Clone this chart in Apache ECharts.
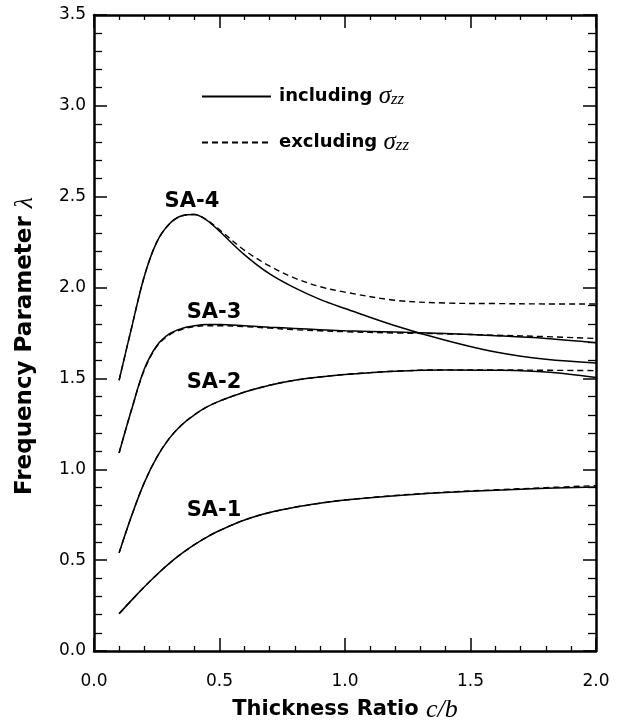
<!DOCTYPE html>
<html>
  <head>
    <meta charset="utf-8" />
    <title>Frequency Parameter</title>
    <script src="https://cdn.jsdelivr.net/npm/echarts@6/dist/echarts.min.js"></script>
    <style>
      body { margin: 0; background-color: #fff; }
      #box { width: 623px; height: 728px; }
    </style>
  </head>
  <body>
    <div id="box"></div>
    <script>
      // thickness ratio c/b
      var ratio = [0.1, 0.15, 0.2, 0.25, 0.3, 0.35, 0.4, 0.45, 0.5, 0.6, 0.7, 0.8, 0.9, 1.0, 1.2, 1.4, 1.6, 1.8, 2.0];

      // including sigma_zz (solid)
      var sa1Inc = [0.205, 0.28, 0.352, 0.42, 0.482, 0.537, 0.585, 0.627, 0.663, 0.721, 0.762, 0.791, 0.813, 0.831, 0.855, 0.872, 0.885, 0.895, 0.903];
      var sa2Inc = [0.54, 0.745, 0.925, 1.065, 1.17, 1.245, 1.30, 1.343, 1.375, 1.425, 1.463, 1.49, 1.508, 1.522, 1.54, 1.547, 1.545, 1.535, 1.505];
      var sa3Inc = [1.09, 1.33, 1.55, 1.68, 1.745, 1.775, 1.79, 1.797, 1.797, 1.79, 1.782, 1.775, 1.768, 1.762, 1.755, 1.747, 1.735, 1.72, 1.697];
      var sa4Inc = [1.49, 1.78, 2.06, 2.25, 2.35, 2.395, 2.402, 2.37, 2.31, 2.18, 2.075, 1.998, 1.935, 1.885, 1.79, 1.71, 1.645, 1.605, 1.585];

      // excluding sigma_zz (dashed)
      var sa1Exc = [0.205, 0.28, 0.352, 0.42, 0.482, 0.537, 0.585, 0.627, 0.663, 0.721, 0.762, 0.791, 0.813, 0.831, 0.856, 0.874, 0.887, 0.899, 0.91];
      var sa2Exc = [0.54, 0.745, 0.925, 1.065, 1.17, 1.245, 1.30, 1.343, 1.375, 1.425, 1.463, 1.49, 1.508, 1.522, 1.54, 1.547, 1.547, 1.545, 1.543];
      var sa3Exc = [1.09, 1.33, 1.545, 1.675, 1.74, 1.77, 1.785, 1.79, 1.79, 1.785, 1.777, 1.768, 1.762, 1.757, 1.75, 1.745, 1.738, 1.73, 1.72];
      var sa4Exc = [1.49, 1.78, 2.06, 2.25, 2.35, 2.395, 2.402, 2.372, 2.318, 2.205, 2.118, 2.052, 2.005, 1.975, 1.93, 1.915, 1.912, 1.91, 1.91];

      // mode labels
      var modeNames = ['SA-1', 'SA-2', 'SA-3', 'SA-4'];
      var modeLabelX = [0.478, 0.478, 0.478, 0.39];
      var modeLabelY = [0.775, 1.475, 1.865, 2.475];

      function pairs(ys) {
        return ratio.map(function (x, i) { return [x, ys[i]]; });
      }

      function curve(name, ys, dashed) {
        return {
          name: name,
          type: 'line',
          data: pairs(ys),
          symbol: 'none',
          smooth: 0.35,
          silent: true,
          itemStyle: { color: '#000' },
          lineStyle: {
            color: '#000',
            width: dashed ? 1.4 : 1.5,
            type: dashed ? [6, 4] : 'solid'
          },
          z: dashed ? 2 : 3
        };
      }

      var tickFont = { fontFamily: 'DejaVu Sans', fontSize: 17, color: '#000' };

      function xAxisOf(pos) {
        return {
          type: 'value',
          position: pos,
          min: 0,
          max: 2,
          interval: 0.5,
          axisLine: { show: true, onZero: false, lineStyle: { color: '#000', width: 2.5 } },
          axisTick: { show: true, inside: true, length: 13, lineStyle: { color: '#000', width: 1.5 } },
          minorTick: { show: true, splitNumber: 5, length: 5, lineStyle: { color: '#000', width: 1.3 } },
          splitLine: { show: false },
          axisLabel: pos === 'bottom' ? Object.assign({
            show: true, margin: 22,
            formatter: function (v) { return v.toFixed(1); }
          }, tickFont) : { show: false }
        };
      }

      function yAxisOf(pos) {
        return {
          type: 'value',
          position: pos,
          min: 0,
          max: 3.5,
          interval: 0.5,
          axisLine: { show: true, onZero: false, lineStyle: { color: '#000', width: 2.5 } },
          axisTick: { show: true, inside: true, length: 13, lineStyle: { color: '#000', width: 1.5 } },
          minorTick: { show: true, splitNumber: 5, length: 8, lineStyle: { color: '#000', width: 1.3 } },
          splitLine: { show: false },
          axisLabel: pos === 'left' ? Object.assign({
            show: true, margin: 8,
            formatter: function (v) { return v.toFixed(1); }
          }, tickFont) : { show: false }
        };
      }

      var xBottom = xAxisOf('bottom');
      xBottom.name = '{t|Thickness Ratio }{m|c/b}';
      xBottom.nameLocation = 'middle';
      xBottom.nameGap = 46;
      xBottom.nameTextStyle = {
        rich: {
          t: { fontFamily: 'DejaVu Sans', fontWeight: 'bold', fontSize: 21, color: '#000', lineHeight: 26 },
          m: { fontFamily: 'Liberation Serif', fontStyle: 'italic', fontSize: 26, color: '#000', lineHeight: 26 }
        }
      };

      var yLeft = yAxisOf('left');
      yLeft.name = '{t|Frequency Parameter }{m|λ}';
      yLeft.nameLocation = 'middle';
      yLeft.nameGap = 56;
      yLeft.nameRotate = 90;
      yLeft.nameTextStyle = {
        rich: {
          t: { fontFamily: 'DejaVu Sans', fontWeight: 'bold', fontSize: 23, color: '#000', lineHeight: 26 },
          m: { fontFamily: 'Liberation Serif', fontStyle: 'italic', fontSize: 26, color: '#000', lineHeight: 26, padding: [0, 26, 0, 0] }
        }
      };

      var labelData = modeNames.map(function (n, i) {
        return { name: n, value: [modeLabelX[i], modeLabelY[i]] };
      });

      var myChart = echarts.init(document.getElementById('box'));
      var option = {
        animation: false,
        backgroundColor: '#fff',
        grid: { left: 94, right: 27, top: 15, bottom: 69, containLabel: false },
        xAxis: [xBottom, xAxisOf('top')],
        yAxis: [yLeft, yAxisOf('right')],
        legend: {
          orient: 'vertical',
          left: 196,
          top: 79,
          itemWidth: 69,
          itemHeight: 14,
          itemGap: 21,
          selectedMode: false,
          itemStyle: { opacity: 0 },
          data: ['including', 'excluding'],
          formatter: function (name) {
            return '{t|' + name + ' }{s|σ}{z|zz}';
          },
          textStyle: {
            rich: {
              t: { fontFamily: 'DejaVu Sans', fontWeight: 'bold', fontSize: 18, color: '#000', lineHeight: 24, padding: [0, 0, 0, 3] },
              s: { fontFamily: 'Liberation Serif', fontStyle: 'italic', fontSize: 25, color: '#000', lineHeight: 24 },
              z: { fontFamily: 'Liberation Serif', fontStyle: 'italic', fontSize: 17, color: '#000', lineHeight: 17, verticalAlign: 'bottom' }
            }
          }
        },
        series: [
          curve('excluding', sa1Exc, true),
          curve('excluding', sa2Exc, true),
          curve('excluding', sa3Exc, true),
          curve('excluding', sa4Exc, true),
          curve('including', sa1Inc, false),
          curve('including', sa2Inc, false),
          curve('including', sa3Inc, false),
          curve('including', sa4Inc, false),
          {
            name: 'labels',
            type: 'scatter',
            symbolSize: 0,
            silent: true,
            itemStyle: { color: '#000', opacity: 1 },
            data: labelData,
            label: {
              show: true,
              position: 'inside',
              formatter: '{b}',
              fontFamily: 'DejaVu Sans',
              fontWeight: 'bold',
              fontSize: 21,
              color: '#000',
              opacity: 1
            }
          }
        ]
      };
      myChart.setOption(option);
    </script>
  </body>
</html>
